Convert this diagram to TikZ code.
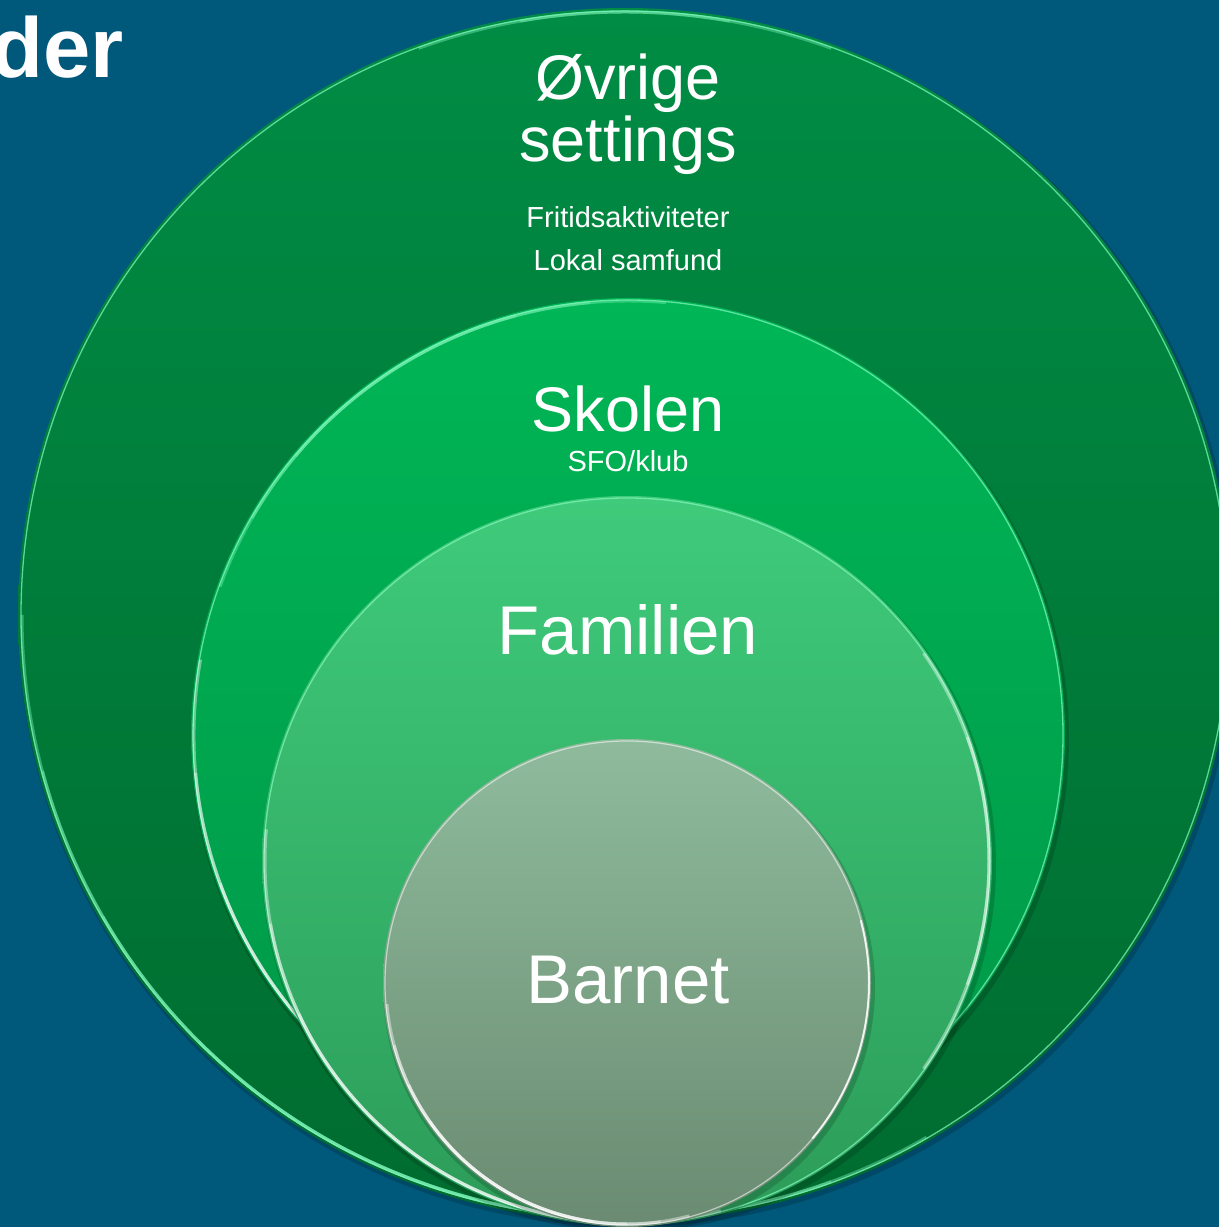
\documentclass[tikz,border=0pt]{standalone}
\usepackage{fontspec}
\setmainfont{Liberation Sans}
\definecolor{bg}{HTML}{00587A}
\definecolor{outerTop}{HTML}{008C44}
\definecolor{outerBot}{HTML}{006C2F}
\definecolor{schoolTop}{HTML}{00B656}
\definecolor{schoolBot}{HTML}{009647}
\definecolor{familyTop}{HTML}{3FCB7B}
\definecolor{familyBot}{HTML}{2C9C59}
\definecolor{childTop}{HTML}{8FBB9C}
\definecolor{childBot}{HTML}{6A8B71}
\definecolor{mint}{HTML}{7DF5B8}
\begin{document}
\begin{tikzpicture}[x=1pt,y=1pt,
  disc/.style={circle, inner sep=0pt, outer sep=0pt, minimum size=#1},
  shadowdisc/.style={circle, inner sep=0pt, outer sep=0pt, minimum size=#1, fill=black, opacity=0.16},
  rimline/.style={draw=#1, line width=1.3pt, opacity=0.75},
  glowline/.style={draw=#1, line width=3pt, opacity=0.4},
  lbl/.style={text=white, inner sep=0pt, anchor=base},
  big/.style={font=\fontsize{63}{63}\selectfont},
  bigger/.style={font=\fontsize{69}{69}\selectfont},
  small/.style={font=\fontsize{29}{29}\selectfont}]
\useasboundingbox (0,0) rectangle (1219,1227);
\clip (0,0) rectangle (1219,1227);
\fill[bg] (0,0) rectangle (1219,1227);

% outermost ring: other settings
\node[shadowdisc=1218pt] (ovrigeS) at (627,609) {};
\node[disc=1214pt, top color=outerTop, bottom color=outerBot] (ovrige) at (625,612) {};
\draw[rimline=mint] (ovrige) circle[radius=604pt];
\foreach \a/\b in {180/300,195/290,210/280,225/270}
  \draw[glowline=mint] (ovrige.center) ++(\a:603pt) arc[start angle=\a, end angle=\b, radius=603pt];
\foreach \a/\b in {70/110,80/100}
  \draw[glowline=mint] (ovrige.center) ++(\a:603pt) arc[start angle=\a, end angle=\b, radius=603pt];

% school ring
\node[shadowdisc=878pt] (skolenS) at (630,488) {};
\node[disc=874pt, top color=schoolTop, bottom color=schoolBot] (skolen) at (628,492) {};
\draw[rimline=mint] (skolen) circle[radius=435pt];
\foreach \a/\b in {170/250,185/245,200/240}
  \draw[glowline=white] (skolen.center) ++(\a:434pt) arc[start angle=\a, end angle=\b, radius=434pt];
\foreach \a/\b in {85/160,95/150,105/140}
  \draw[glowline=mint] (skolen.center) ++(\a:434pt) arc[start angle=\a, end angle=\b, radius=434pt];

% family ring
\node[shadowdisc=734pt] (familienS) at (629,362) {};
\node[disc=730pt, top color=familyTop, bottom color=familyBot] (familien) at (627,366) {};
\draw[rimline=mint] (familien) circle[radius=363pt];
\foreach \a/\b in {175/285,190/275,205/265}
  \draw[glowline=white] (familien.center) ++(\a:362pt) arc[start angle=\a, end angle=\b, radius=362pt];
\foreach \a/\b in {-35/35,-20/20}
  \draw[glowline=white] (familien.center) ++(\a:362pt) arc[start angle=\a, end angle=\b, radius=362pt];

% the child
\node[shadowdisc=492pt] (barnetS) at (629,240) {};
\node[disc=488pt, top color=childTop, bottom color=childBot] (barnet) at (627,244) {};
\draw[draw=white, line width=1.2pt, opacity=0.55] (barnet) circle[radius=242pt];
\foreach \a/\b in {185/285,195/278,205/270,215/262}
  \draw[glowline=white] (barnet.center) ++(\a:241pt) arc[start angle=\a, end angle=\b, radius=241pt];
\draw[draw=white, line width=2pt, opacity=0.8] (barnet.center) ++(-40:242pt) arc[start angle=-40, end angle=15, radius=242pt];

% labels
\node[lbl, anchor=base east, font=\fontsize{85}{85}\selectfont\bfseries] (title) at (124,1149) {der};
\node[lbl, big] (t1) at (628,1127) {Øvrige};
\node[lbl, big] (t2) at (628,1065) {settings};
\node[lbl, small] (t3) at (628,999) {Fritidsaktiviteter};
\node[lbl, small] (t4) at (628,956) {Lokal samfund};
\node[lbl, big] (t5) at (628,795) {Skolen};
\node[lbl, small] (t6) at (628,755) {SFO/klub};
\node[lbl, bigger] (t7) at (628,572) {Familien};
\node[lbl, bigger] (t8) at (628,223) {Barnet};
\end{tikzpicture}
\end{document}
